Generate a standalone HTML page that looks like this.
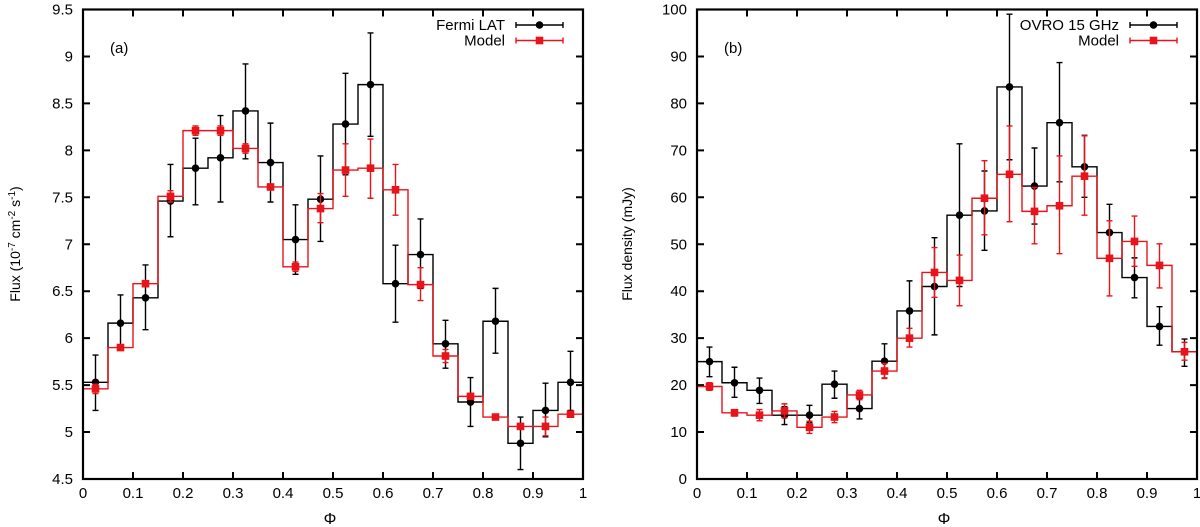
<!DOCTYPE html>
<html><head><meta charset="utf-8"><style>
body{margin:0;background:#fff;}
svg{display:block;font-family:"Liberation Sans",sans-serif;}
</style></head><body>
<svg id="chart" width="1200" height="527" viewBox="0 0 1200 527"></svg>
<script>
const phases=[0.025,0.075,0.125,0.175,0.225,0.275,0.325,0.375,0.425,0.475,0.525,0.575,0.625,0.675,0.725,0.775,0.825,0.875,0.925,0.975];
const fermiVal=[5.53,6.16,6.43,7.46,7.81,7.92,8.42,7.87,7.05,7.48,8.28,8.70,6.58,6.89,5.94,5.32,6.18,4.88,5.23,5.53];
const fermiHi=[5.82,6.46,6.78,7.85,8.13,8.37,8.92,8.29,7.42,7.94,8.82,9.25,6.99,7.27,6.19,5.58,6.53,5.16,5.52,5.86];
const fermiLo=[5.23,5.87,6.09,7.08,7.42,7.45,7.91,7.45,6.68,7.03,7.74,8.15,6.17,6.53,5.68,5.06,5.84,4.60,4.95,5.23];
const modelAVal=[5.46,5.90,6.58,7.51,8.21,8.21,8.02,7.61,6.76,7.38,7.79,7.81,7.58,6.57,5.81,5.38,5.16,5.06,5.06,5.19];
const modelAHi=[5.51,5.92,6.61,7.57,8.26,8.26,8.07,7.64,6.81,7.54,8.07,8.12,7.85,6.75,5.88,5.41,5.17,5.07,5.16,5.21];
const modelALo=[5.41,5.88,6.55,7.45,8.16,8.16,7.97,7.58,6.71,7.23,7.51,7.49,7.31,6.40,5.74,5.35,5.15,5.05,4.96,5.17];
const ovroVal=[25.0,20.5,18.9,13.6,13.6,20.2,15.0,25.1,35.8,41.0,56.2,57.1,83.5,62.4,75.9,66.5,52.5,42.9,32.5,27.1];
const ovroHi=[28.1,23.8,21.5,15.4,15.7,23.0,17.2,28.8,42.2,51.4,71.4,65.6,99.0,70.5,88.7,73.2,58.5,47.1,36.7,29.8];
const ovroLo=[21.8,17.4,16.1,11.6,12.0,17.2,12.8,21.5,30.1,30.7,41.0,48.7,68.0,54.3,63.3,60.0,46.5,38.6,28.5,24.0];
const modelBVal=[19.7,14.1,13.6,14.5,11.0,13.2,17.9,23.0,30.0,44.0,42.3,59.8,64.9,57.0,58.2,64.5,47.0,50.6,45.5,27.1];
const modelBHi=[20.5,14.8,14.8,16.0,12.3,14.4,18.9,24.6,32.1,49.3,47.7,67.8,75.2,62.1,68.8,73.1,55.0,56.0,50.1,29.1];
const modelBLo=[18.9,13.4,12.4,13.0,9.7,12.0,16.9,21.4,28.1,38.7,36.9,52.0,54.8,50.1,48.0,56.2,39.0,45.3,40.7,25.3];
const xTicks=[0,0.1,0.2,0.3,0.4,0.5,0.6,0.7,0.8,0.9,1];
const xTickLabels=["0","0.1","0.2","0.3","0.4","0.5","0.6","0.7","0.8","0.9","1"];
const yTicksA=[4.5,5,5.5,6,6.5,7,7.5,8,8.5,9,9.5];
const yTickLabelsA=["4.5","5","5.5","6","6.5","7","7.5","8","8.5","9","9.5"];
const yTicksB=[0,10,20,30,40,50,60,70,80,90,100];
const yTickLabelsB=["0","10","20","30","40","50","60","70","80","90","100"];

const NS="http://www.w3.org/2000/svg";
const svg=document.getElementById('chart');
function mk(tag,attrs,parent){const e=document.createElementNS(NS,tag);for(const k in attrs)e.setAttribute(k,attrs[k]);(parent||svg).appendChild(e);return e;}

function panel(o){
  const L=o.left,R=o.left+500,T=9.5,B=479;
  const sx=v=>L+(v-0)*(R-L);
  const sy=v=>B-(v-o.ymin)/(o.ymax-o.ymin)*(B-T);
  const g=mk('g',{});
  
  
  // ticks
  xTicks.forEach((t,i)=>{
    const x=sx(t);
    const tk=mk('path',{d:`M${x},${B}v-7M${x},${T}v7`,stroke:'#000','stroke-width':2},g);
    
    
    const lb=mk('text',{x:x,y:498,'font-size':15,'text-anchor':'middle'},g);
    lb.textContent=xTickLabels[i];
    
    
  });
  o.yTicks.forEach((t,i)=>{
    const y=sy(t);
    const tk=mk('path',{d:`M${L},${y}h7M${R},${y}h-7`,stroke:'#000','stroke-width':2},g);
    
    
    const lb=mk('text',{x:L-10,y:y+5,'font-size':15,'text-anchor':'end'},g);
    lb.textContent=o.yLabels[i];
    
    
  });
  // series
  o.series.forEach(s=>{
    let d='';
    phases.forEach((p,i)=>{
      const x0=sx(p-0.025),x1=sx(p+0.025),y=sy(s.val[i]);
      d+=(i===0?`M${x0},${y}`:`L${x0},${y}`)+`L${x1},${y}`;
    });
    const st=mk('path',{d:d,fill:'none',stroke:s.color,'stroke-width':1.4},g);
    
    
    phases.forEach((p,i)=>{
      const x=sx(p),yh=sy(s.hi[i]),yl=sy(s.lo[i]);
      const eb=mk('path',{d:`M${x},${yh}V${yl}M${x-3},${yh}h6M${x-3},${yl}h6`,stroke:s.color,'stroke-width':1.4,fill:'none'},g);
      
      
      const y=sy(s.val[i]);
      let m;
      if(s.marker==='circle') m=mk('circle',{cx:x,cy:y,r:3.8,fill:s.color},g);
      else m=mk('rect',{x:x-3.8,y:y-3.8,width:7.6,height:7.6,fill:s.color},g);
      
      
    });
  });
  // frame
  const fr=mk('rect',{x:L,y:T,width:R-L,height:B-T,fill:'none',stroke:'#000','stroke-width':2.2},g);
  
  
  // legend
  o.series.forEach((s,k)=>{
    const y=25+k*15.5;
    const lx0=L+433,lx1=L+480;
    const tx=mk('text',{x:L+422,y:y+5,'font-size':15,'text-anchor':'end'},g);
    tx.textContent=s.label;
    
    
    const ln=mk('path',{d:`M${lx0},${y}H${lx1}M${lx0},${y-3}v6M${lx1},${y-3}v6`,stroke:s.color,'stroke-width':1.4},g);
    
    
    const cx=(lx0+lx1)/2;
    let m;
    if(s.marker==='circle') m=mk('circle',{cx:cx,cy:y,r:3.8,fill:s.color},g);
    else m=mk('rect',{x:cx-3.8,y:y-3.8,width:7.6,height:7.6,fill:s.color},g);
    
    
  });
  const pl=mk('text',{x:L+27,y:53,'font-size':15},g);
  pl.textContent=o.panelLabel;
  
  
  const xt=mk('text',{x:(L+R)/2-3,y:524,'font-size':16,'text-anchor':'middle'},g);
  xt.textContent='Φ';
  
  
  const yt=mk('text',{x:0,y:0,'font-size':14,'text-anchor':'middle',transform:`translate(${o.ytx},${o.yty}) rotate(-90)`},g);
  yt.innerHTML=o.ytitle;
  
  
}

panel({name:'panel-a-fermi',left:83,ymin:4.5,ymax:9.5,yTicks:yTicksA,yLabels:yTickLabelsA,panelLabel:'(a)',
  ytx:20,yty:244,ytitle:'Flux (10<tspan dy="-5" font-size="10">-7</tspan><tspan dy="5"> cm</tspan><tspan dy="-5" font-size="10">-2</tspan><tspan dy="5"> s</tspan><tspan dy="-5" font-size="10">-1</tspan><tspan dy="5">)</tspan>',
  series:[
    {name:'fermi-lat',label:'Fermi LAT',color:'#000',marker:'circle',val:fermiVal,hi:fermiHi,lo:fermiLo},
    {name:'model-a',label:'Model',color:'#e8141b',marker:'square',val:modelAVal,hi:modelAHi,lo:modelALo}]});
panel({name:'panel-b-ovro',left:697,ymin:0,ymax:100,yTicks:yTicksB,yLabels:yTickLabelsB,panelLabel:'(b)',
  ytx:632,yty:244,ytitle:'Flux density (mJy)',
  series:[
    {name:'ovro-15ghz',label:'OVRO 15 GHz',color:'#000',marker:'circle',val:ovroVal,hi:ovroHi,lo:ovroLo},
    {name:'model-b',label:'Model',color:'#e8141b',marker:'square',val:modelBVal,hi:modelBHi,lo:modelBLo}]});
</script>
</body></html>
